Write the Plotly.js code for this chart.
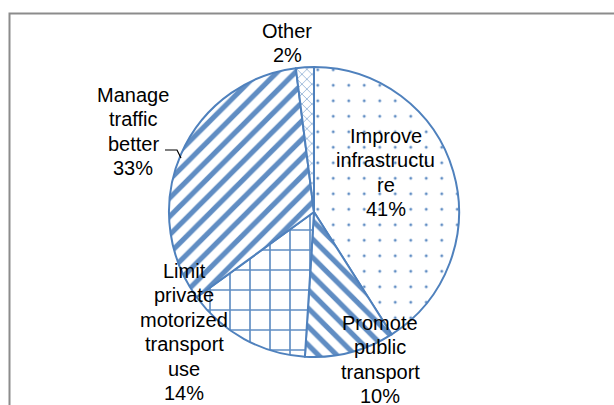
<!DOCTYPE html>
<html>
<head>
<meta charset="utf-8">
<script src="https://cdn.plot.ly/plotly-3.0.1.min.js"></script>
<style>html,body{margin:0;padding:0;background:#fff;}#chart{width:614px;height:405px;}</style>
</head>
<body>
<div id="chart"></div>
<script>
// ---- data ----
const categories = ['Improve infrastructure', 'Promote public transport', 'Limit private motorized transport use', 'Manage traffic better', 'Other'];
const values = [41, 10, 14, 33, 2];
const labelLines = [
  ['Improve', 'infrastructu', 're'],
  ['Promote', 'public', 'transport'],
  ['Limit', 'private', 'motorized', 'transport', 'use'],
  ['Manage', 'traffic', 'better'],
  ['Other']
];

// ---- styling / layout ----
const W = 614, H = 405;
const blue = 'rgb(79,129,189)';
const cx = 314, cy = 212, R = 145;
const patShapes = ['.', '\\', '+', '/', 'x'];
const patSizes = [15.5, 13, 20, 13, 7];
const patSolid = [0.028, 0.4, 0.16, 0.4, 0.16];
// label placement: [center x px, first line center y px]
const labelPos = [[386, 136], [380, 323], [184, 271], [133, 95], [287, 31]];
const lineGap = 24.4;

const total = values.reduce((a, b) => a + b, 0);
const px = x => x / W, py = y => 1 - y / H;

const annotations = [];
labelLines.forEach((lines, i) => {
  const all = lines.concat([Math.round(values[i] / total * 100) + '%']);
  all.forEach((t, j) => {
    annotations.push({
      xref: 'paper', yref: 'paper', x: px(labelPos[i][0]), y: py(labelPos[i][1] + j * lineGap),
      xanchor: 'center', yanchor: 'middle', showarrow: false, text: t,
      font: {family: 'Liberation Sans, Arial, sans-serif', size: 20, color: '#000'}
    });
  });
});

const trace = {
  type: 'pie',
  labels: categories,
  values: values,
  sort: false,
  direction: 'clockwise',
  rotation: 0,
  textinfo: 'none',
  hoverinfo: 'label+percent',
  domain: {x: [px(cx - R), px(cx + R)], y: [py(cy + R), py(cy - R)]},
  marker: {
    colors: values.map(() => '#ffffff'),
    line: {color: blue, width: 2},
    pattern: {shape: patShapes, size: patSizes, solidity: patSolid, fgcolor: blue, fgopacity: 0.9, bgcolor: '#ffffff', fillmode: 'overlay'}
  }
};

const layout = {
  width: W, height: H,
  margin: {l: 0, r: 0, t: 0, b: 0},
  paper_bgcolor: '#ffffff',
  showlegend: false,
  annotations: annotations,
  shapes: [
    {type: 'rect', xref: 'paper', yref: 'paper', x0: px(9.5), x1: px(640), y0: py(430), y1: py(13.5),
     line: {color: '#8c8c8c', width: 2}, fillcolor: 'rgba(0,0,0,0)'},
    {type: 'path', xref: 'paper', yref: 'paper',
     path: `M${px(165)},${py(150)} L${px(177)},${py(150)} L${px(181)},${py(158)}`,
     line: {color: '#000', width: 1.2}}
  ]
};

Plotly.newPlot('chart', [trace], layout, {staticPlot: true, displayModeBar: false});
</script>
</body>
</html>
